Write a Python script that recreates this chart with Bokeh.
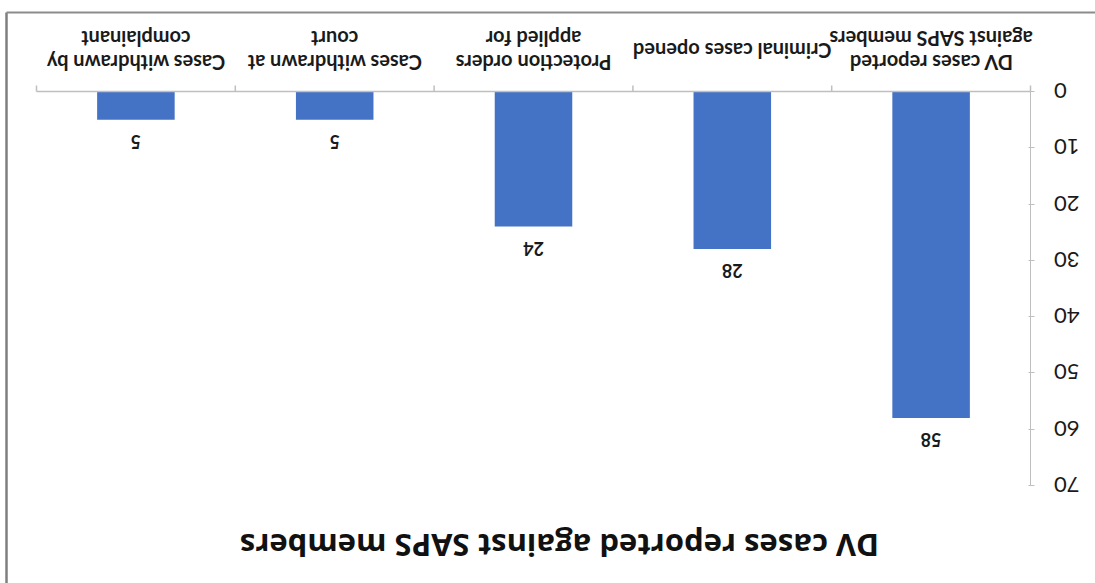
import math
from bokeh.plotting import figure
from bokeh.models import Range1d, LinearAxis, FixedTicker
from bokeh.core.properties import value
from bokeh.embed import file_html
from bokeh.resources import INLINE

# ---- data ----
categories = [
    "DV cases reported\nagainst SAPS members",
    "Criminal cases opened",
    "Protection orders\napplied for",
    "Cases withdrawn at\ncourt",
    "Cases withdrawn by\ncomplainant",
]
counts = [58, 28, 24, 5, 5]
y_ticks = [0, 10, 20, 30, 40, 50, 60, 70]
title_text = "DV cases reported against SAPS members"

# ---- layout constants (pixels) ----
W, H = 1095, 583
X0_PX = 1030               # pixel column of the value axis (category x = 0)
Y0_PX, Y70_PX = 91, 485    # pixel rows of values 0 and 70
PPU_Y = (Y70_PX - Y0_PX) / 70.0
PPU_X = 198.8              # pixels per category slot


def ydat(px):
    return (px - Y0_PX) / PPU_Y


def xdat(px):
    return (X0_PX - px) / PPU_X


p = figure(width=W, height=H, output_backend="svg", toolbar_location=None,
           x_range=Range1d(start=xdat(0), end=xdat(W)),
           y_range=Range1d(start=ydat(H), end=ydat(0)),
           x_axis_location=None, y_axis_location=None,
           min_border=0, outline_line_color=None,
           background_fill_color="white", border_fill_color="white")
p.grid.visible = False

n = len(categories)
idx = [i + 0.5 for i in range(n)]

# bars hanging from 0
p.vbar(x=idx, top=counts, bottom=0, width=0.39, fill_color="#4472C4",
       line_color=None)

# category axis line and slot ticks
p.segment(x0=[0], y0=[0], x1=[n], y1=[0], line_color="#bfbfbf", line_width=1.5)
p.segment(x0=list(range(n + 1)), y0=[0] * (n + 1), x1=list(range(n + 1)),
          y1=[ydat(Y0_PX - 6)] * (n + 1), line_color="#bfbfbf", line_width=1.5)

# category labels (upside down)
p.text(x=idx, y=[ydat(50)] * n, text=categories, angle=math.pi,
       text_align="center", text_baseline="middle",
       text_font=value("Lato"), text_font_style="bold", text_font_size="20px",
       text_line_height=1.0, text_color="#1a1a1a")

# data labels (upside down)
p.text(x=idx, y=[c + 22 / PPU_Y for c in counts], text=[str(c) for c in counts],
       angle=math.pi, text_align="center", text_baseline="middle",
       text_font=value("Lato"), text_font_style="bold", text_font_size="18px",
       text_color="#1a1a1a")

# title (upside down)
p.text(x=[xdat(559)], y=[ydat(545)], text=[title_text], angle=math.pi,
       text_align="center", text_baseline="middle",
       text_font=value("Open Sans"), text_font_style="bold",
       text_font_size="31px", text_color="#111111")

# chart border: left edge and top edge
p.segment(x0=[xdat(6)], y0=[ydat(12)], x1=[xdat(6)], y1=[ydat(H)],
          line_color="#7f7f7f", line_width=2.5)
p.segment(x0=[xdat(6)], y0=[ydat(12)], x1=[xdat(W)], y1=[ydat(12)],
          line_color="#8c8c8c", line_width=2)

# value axis at category x = 0 (labels upside down)
yax = LinearAxis(fixed_location=0, bounds=(0, 70),
                 ticker=FixedTicker(ticks=y_ticks),
                 major_label_overrides={0: "\u20070"},
                 major_label_orientation=math.pi,
                 axis_line_color="#bfbfbf", major_tick_line_color="#bfbfbf",
                 major_tick_out=4, major_tick_in=2, minor_tick_line_color=None,
                 major_label_standoff=45,
                 major_label_text_font="Lato", major_label_text_font_size="22px",
                 major_label_text_color="#1a1a1a")
p.add_layout(yax, "right")

open("out.html", "w").write(file_html(p, INLINE))
